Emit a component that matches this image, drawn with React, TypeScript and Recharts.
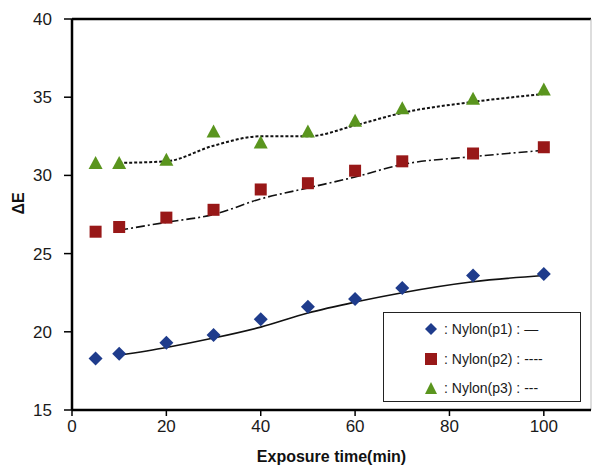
import React from "react";
import {
  ComposedChart,
  Scatter,
  Line,
  XAxis,
  YAxis,
  ReferenceLine,
} from "recharts";

// exposure times (min)
const times = [5, 10, 20, 30, 40, 50, 60, 70, 85, 100];
const fitTimes = [10, 20, 30, 40, 50, 60, 70, 85, 100];

// measured ΔE
const p1Values = [18.3, 18.6, 19.3, 19.8, 20.8, 21.6, 22.1, 22.8, 23.6, 23.7];
const p2Values = [26.4, 26.7, 27.3, 27.8, 29.1, 29.5, 30.3, 30.9, 31.4, 31.8];
const p3Values = [30.8, 30.8, 31.0, 32.8, 32.1, 32.8, 33.5, 34.3, 34.9, 35.5];

// trend lines
const p1Fit = [18.5, 19.0, 19.6, 20.3, 21.2, 21.9, 22.5, 23.2, 23.6];
const p2Fit = [26.5, 27.0, 27.5, 28.5, 29.2, 29.9, 30.7, 31.2, 31.6];
const p3Fit = [30.8, 30.9, 31.9, 32.5, 32.5, 33.2, 34.0, 34.7, 35.2];

const xTicks = [0, 20, 40, 60, 80, 100];
const yTicks = [15, 20, 25, 30, 35, 40];

const toPoints = (xs: number[], ys: number[]) =>
  xs.map((x, i) => ({ x, y: ys[i] }));

const BLUE = "#1f3c8c";
const RED = "#981818";
const GREEN = "#5a951e";

const tickFont = {
  fontFamily: "'Liberation Sans Narrow', 'Liberation Sans', Arial, sans-serif",
  fontSize: 17,
  fill: "#1a1a1a",
};

const Diamond = (props: any) => {
  const { cx, cy } = props;
  const r = 7;
  return (
    <polygon
      points={`${cx},${cy - r} ${cx + r},${cy} ${cx},${cy + r} ${cx - r},${cy}`}
      fill={BLUE}
    />
  );
};

const Square = (props: any) => {
  const { cx, cy } = props;
  const r = 6;
  return <rect x={cx - r} y={cy - r} width={2 * r} height={2 * r} fill={RED} />;
};

const Triangle = (props: any) => {
  const { cx, cy } = props;
  return (
    <polygon
      points={`${cx},${cy - 7} ${cx + 7},${cy + 6} ${cx - 7},${cy + 6}`}
      fill={GREEN}
    />
  );
};

const LegendBox = () => {
  const rows = [
    { shape: "diamond", text: ": Nylon(p1) : \u2014" },
    { shape: "square", text: ": Nylon(p2) : ----" },
    { shape: "triangle", text: ": Nylon(p3) : ---" },
  ];
  return (
    <div
      style={{
        position: "absolute",
        left: 383,
        top: 312,
        width: 198,
        height: 90,
        border: "1px solid #222",
        background: "#fff",
        boxSizing: "border-box",
        fontFamily: "'Liberation Sans', Arial, sans-serif",
        fontSize: 14,
        color: "#1a1a1a",
      }}
    >
      {rows.map((r, i) => (
        <div
          key={i}
          style={{
            position: "absolute",
            left: 40,
            top: 8 + i * 29.5,
            display: "flex",
            alignItems: "center",
            height: 16,
          }}
        >
          <svg width={14} height={14} style={{ marginRight: 6 }}>
            {r.shape === "diamond" && (
              <polygon points="7,1 13,7 7,13 1,7" fill={BLUE} />
            )}
            {r.shape === "square" && (
              <rect x={1} y={1} width={12} height={12} fill={RED} />
            )}
            {r.shape === "triangle" && (
              <polygon points="7,1 13,13 1,13" fill={GREEN} />
            )}
          </svg>
          <span>{r.text}</span>
        </div>
      ))}
    </div>
  );
};

export default function App() {
  return (
    <div
      style={{
        position: "absolute",
        left: 0,
        top: 0,
        width: 592,
        height: 466,
        background: "#fff",
      }}
    >
      <ComposedChart
        width={592}
        height={466}
        margin={{ top: 19, right: 1, left: 0, bottom: 0 }}
      >
        <XAxis
          dataKey="x"
          type="number"
          domain={[0, 110]}
          ticks={xTicks}
          allowDataOverflow
          axisLine={{ stroke: "#000", strokeWidth: 2.5 }}
          tickLine={{ stroke: "#000", strokeWidth: 1.5 }}
          tickSize={6}
          tickMargin={4}
          tick={tickFont}
          height={56}
          label={{
            value: "Exposure time(min)",
            position: "insideBottom",
            offset: 4,
            style: {
              fontFamily:
                "'Liberation Sans Narrow', 'Liberation Sans', Arial, sans-serif",
              fontWeight: "bold",
              fontSize: 16,
              fill: "#111",
            },
          }}
        />
        <YAxis
          type="number"
          domain={[15, 40]}
          ticks={yTicks}
          width={72}
          axisLine={{ stroke: "#000", strokeWidth: 2.5 }}
          tickLine={{ stroke: "#000", strokeWidth: 1.5 }}
          tickSize={8}
          tickMargin={12}
          tick={tickFont}
          label={{
            value: "\u0394E",
            angle: -90,
            position: "insideLeft",
            offset: 18,
            style: {
              fontFamily: "'Liberation Sans', Arial, sans-serif",
              fontWeight: "bold",
              fontSize: 16,
              fill: "#111",
            },
          }}
        />
        <ReferenceLine y={40} stroke="#000" strokeWidth={2.5} />
        <ReferenceLine x={110} stroke="#bbb" strokeWidth={1} />

        <Line
          data={toPoints(fitTimes, p1Fit)}
          dataKey="y"
          type="monotone"
          stroke="#111"
          strokeWidth={1.6}
          dot={false}
          isAnimationActive={false}
        />
        <Line
          data={toPoints(fitTimes, p2Fit)}
          dataKey="y"
          type="monotone"
          stroke="#111"
          strokeWidth={1.6}
          strokeDasharray="9 3 2 3"
          dot={false}
          isAnimationActive={false}
        />
        <Line
          data={toPoints(fitTimes, p3Fit)}
          dataKey="y"
          type="monotone"
          stroke="#111"
          strokeWidth={2}
          strokeDasharray="3 2"
          dot={false}
          isAnimationActive={false}
        />

        <Scatter
          data={toPoints(times, p1Values)}
          dataKey="y"
          shape={Diamond}
          isAnimationActive={false}
        />
        <Scatter
          data={toPoints(times, p2Values)}
          dataKey="y"
          shape={Square}
          isAnimationActive={false}
        />
        <Scatter
          data={toPoints(times, p3Values)}
          dataKey="y"
          shape={Triangle}
          isAnimationActive={false}
        />
      </ComposedChart>
      <LegendBox />
    </div>
  );
}
